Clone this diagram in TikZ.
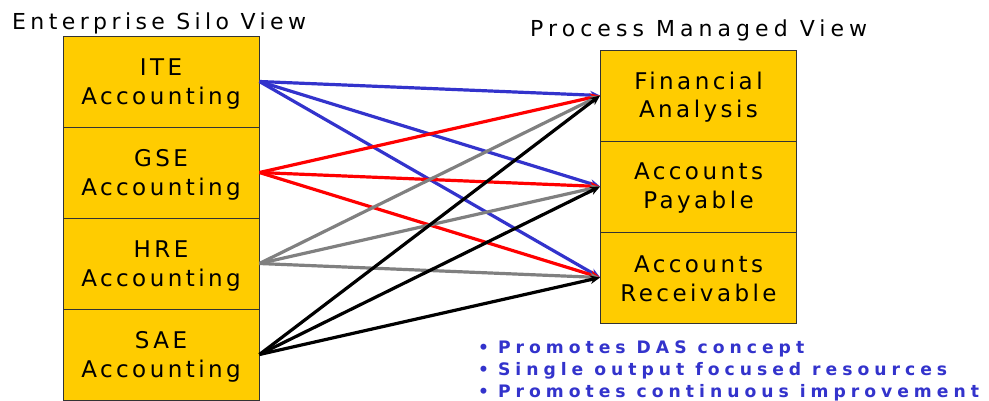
\documentclass[tikz,border=0pt]{standalone}
\usepackage{fontspec}
\setmainfont{DejaVu Sans}
\newfontfamily\spacedt[LetterSpace=20]{DejaVu Sans}
\newfontfamily\spacedr[LetterSpace=23]{DejaVu Sans}
\newfontfamily\spaced[LetterSpace=15]{DejaVu Sans}
\newfontfamily\spacedb[LetterSpace=29]{DejaVu Sans Bold}
\usetikzlibrary{arrows.meta}
\definecolor{boxyellow}{HTML}{FFCC00}
\definecolor{lineblue}{HTML}{3333CC}
\definecolor{linegray}{HTML}{808080}
\definecolor{bulletblue}{HTML}{3333CC}
\begin{document}
\begin{tikzpicture}[x=1pt,y=-1pt,
  silo/.style={draw=black!80, line width=0.8pt, fill=boxyellow, minimum width=196pt, minimum height=91pt,
    inner sep=0pt},
  boxtext/.style={align=center, inner sep=0pt, yshift=-2.5pt, font=\spaced\fontsize{23}{28.5}\selectfont},
  heading/.style={anchor=base west, inner sep=0pt},
  link/.style={line width=3.2pt, -{Stealth[length=10pt,width=8.5pt]}},
  bullet/.style={font=\spacedb\fontsize{17.2}{20}\selectfont, text=bulletblue, anchor=base west, inner sep=0pt}
]
\useasboundingbox (0,0) rectangle (989,400);
\node[heading, font=\spacedt\fontsize{22}{26}\selectfont] (t1) at (12,29) {Enterprise Silo View};
\node[heading, font=\spacedr\fontsize{22}{26}\selectfont] (t2) at (530,36) {Process Managed View};

\node[silo, label={[boxtext]center:ITE\\Accounting}] (ite) at (161,81.5) {};
\node[silo, label={[boxtext]center:GSE\\Accounting}] (gse) at (161,172.5) {};
\node[silo, label={[boxtext]center:HRE\\Accounting}] (hre) at (161,263.5) {};
\node[silo, label={[boxtext]center:SAE\\Accounting}] (sae) at (161,354.5) {};

\node[silo, label={[boxtext, yshift=1pt]center:Financial\\Analysis}] (fa) at (698.5,95.5) {};
\node[silo, label={[boxtext, yshift=1pt]center:Accounts\\Payable}] (ap) at (698.5,186.5) {};
\node[silo, label={[boxtext, yshift=1pt]center:Accounts\\Receivable}] (ar) at (698.5,277.5) {};

\foreach \s/\c in {ite/lineblue, gse/red, hre/linegray, sae/black}{
  \foreach \t in {fa,ap,ar}{
    \draw[link, draw=\c] (\s.east) -- (\t.west);
  }
}

\node[bullet] (b1) at (478,353) {{\fontsize{17}{17}\selectfont\textbullet}\hspace{9pt}Promotes DAS concept};
\node[bullet] (b2) at (478,375) {{\fontsize{17}{17}\selectfont\textbullet}\hspace{9pt}Single output focused resources};
\node[bullet] (b3) at (478,397) {{\fontsize{17}{17}\selectfont\textbullet}\hspace{9pt}Promotes continuous improvement};
\end{tikzpicture}
\end{document}
